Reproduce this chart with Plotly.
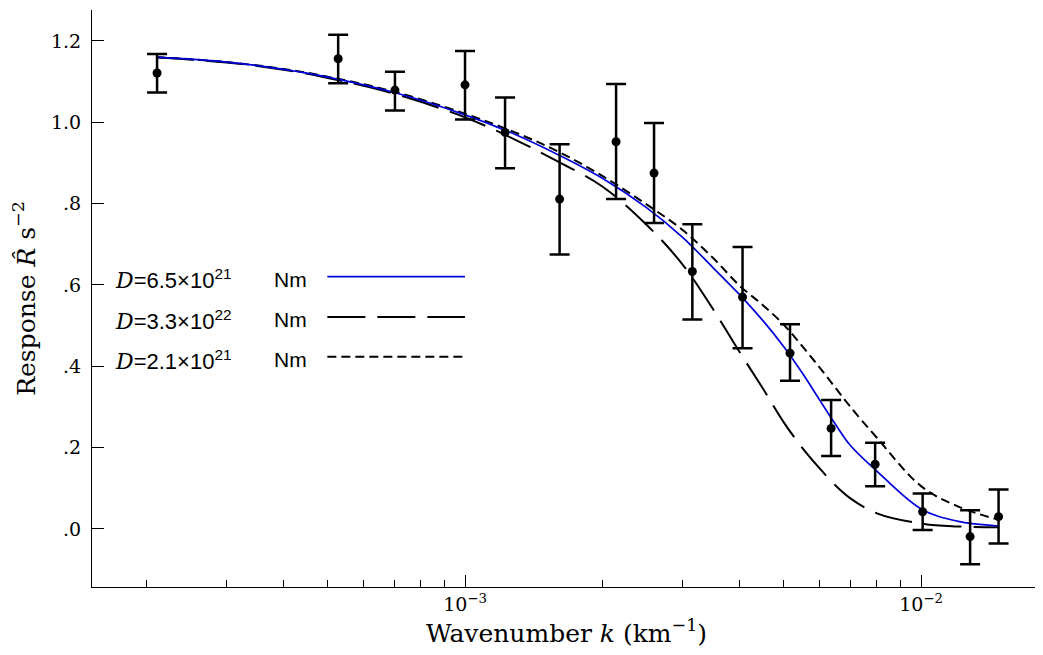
import plotly.graph_objects as go

# Observed response with error bars
k_obs = [2.112e-4, 5.27e-4, 7.02e-4, 1.0e-3, 1.224e-3, 1.612e-3, 2.144e-3, 2.597e-3,
         3.151e-3, 4.06e-3, 5.16e-3, 6.35e-3, 7.93e-3, 1.008e-2, 1.281e-2, 1.479e-2]
r_obs = [1.121, 1.156, 1.079, 1.092, 0.975, 0.811, 0.952, 0.875,
         0.633, 0.570, 0.432, 0.247, 0.159, 0.042, -0.019, 0.030]
r_hi = [1.168, 1.215, 1.124, 1.175, 1.061, 0.946, 1.094, 0.998,
        0.749, 0.693, 0.503, 0.317, 0.212, 0.087, 0.046, 0.097]
r_lo = [1.073, 1.096, 1.029, 1.007, 0.887, 0.675, 0.811, 0.752,
        0.515, 0.444, 0.364, 0.179, 0.105, -0.003, -0.087, -0.036]

# Model curves
k_model = [2.1e-4, 3e-4, 4e-4, 5e-4, 7e-4, 1e-3, 1.3e-3, 1.6e-3, 2e-3, 2.5e-3,
           3e-3, 3.5e-3, 4e-3, 4.5e-3, 5e-3, 5.5e-3, 6e-3, 6.5e-3, 7e-3, 8e-3,
           1e-2, 1.2e-2, 1.48e-2]
r_d65e21 = [1.160, 1.148, 1.130, 1.111, 1.073, 1.018, 0.968, 0.920, 0.862, 0.790,
            0.717, 0.642, 0.576, 0.512, 0.448, 0.382, 0.316, 0.256, 0.205, 0.142,
            0.049, 0.019, 0.007]
r_d33e22 = [1.160, 1.147, 1.129, 1.109, 1.070, 1.012, 0.955, 0.903, 0.842, 0.748,
            0.650, 0.540, 0.435, 0.345, 0.262, 0.198, 0.148, 0.106, 0.075, 0.038,
            0.013, 0.006, 0.004]
r_d21e21 = [1.160, 1.148, 1.131, 1.112, 1.075, 1.021, 0.973, 0.928, 0.868, 0.798,
            0.735, 0.666, 0.598, 0.550, 0.502, 0.448, 0.396, 0.346, 0.300, 0.224,
            0.105, 0.056, 0.022]

legend_labels = ["D=6.5×10<sup>21</sup>", "D=3.3×10<sup>22</sup>", "D=2.1×10<sup>21</sup>"]
legend_unit = "Nm"
y_ticks = [0.0, 0.2, 0.4, 0.6, 0.8, 1.0, 1.2]
y_ticktext = [".0", ".2", ".4", ".6", ".8", "1.0", "1.2"]
x_ticks = [1e-3, 1e-2]
x_ticktext = ["10<sup>−3</sup>", "10<sup>−2</sup>"]
x_minor = [m * 1e-4 for m in range(2, 10)] + [m * 1e-3 for m in range(2, 10)]

SERIF = "DejaVu Serif"
SANS = "Liberation Sans"
BLUE = "#0000dd"

fig = go.Figure()

# dashed curves first, blue solid curve on top
curve_styles = [
    (r_d33e22, dict(color="black", width=2, dash="38px,12px")),
    (r_d21e21, dict(color="black", width=2, dash="9px,5px")),
    (r_d65e21, dict(color=BLUE, width=1.7, dash="solid")),
]
for ys, ln in curve_styles:
    fig.add_trace(go.Scatter(x=k_model, y=ys, mode="lines", line=dict(shape="spline", **ln),
                             showlegend=False, hoverinfo="skip"))

err_plus = [h - r for h, r in zip(r_hi, r_obs)]
err_minus = [r - l for r, l in zip(r_obs, r_lo)]
fig.add_trace(go.Scatter(
    x=k_obs, y=r_obs, mode="markers",
    marker=dict(color="black", size=9),
    error_y=dict(type="data", array=err_plus, arrayminus=err_minus,
                 color="black", thickness=2.5, width=10),
    showlegend=False))

# Legend drawn inside plot: text then line sample on the right
rows_y = [0.533, 0.463, 0.394]
line_dash = ["solid", "38px,12px", "9px,5px"]
line_col = [BLUE, "black", "black"]
line_w = [1.7, 2, 2]
for lab, yy, dsh, col, w in zip(legend_labels, rows_y, line_dash, line_col, line_w):
    txt = lab.replace("D=", "<span style='font-family:%s'><i>D</i></span>=" % SERIF)
    fig.add_annotation(x=0.022, y=yy, xref="paper", yref="paper", text=txt,
                       showarrow=False, xanchor="left", yanchor="middle",
                       font=dict(family=SANS, size=22, color="black"))
    fig.add_annotation(x=0.19, y=yy, xref="paper", yref="paper", text=legend_unit,
                       showarrow=False, xanchor="left", yanchor="middle",
                       font=dict(family=SANS, size=21, color="black"))
    fig.add_shape(type="line", xref="paper", yref="paper", x0=0.248, x1=0.393,
                  y0=yy + 0.005, y1=yy + 0.005, line=dict(color=col, width=w, dash=dsh))

# the page adds an 8px body margin, so margins are shifted by 8px
fig.update_layout(
    width=1043, height=655,
    margin=dict(l=84, r=10, t=2, b=76),
    paper_bgcolor="white", plot_bgcolor="white",
    font=dict(family=SERIF, size=19, color="black"),
    xaxis=dict(type="log", range=[-3.818, -1.737], showgrid=False, zeroline=False,
               automargin=False,
               showline=True, linecolor="black", linewidth=1,
               ticks="inside", ticklen=12, tickwidth=1, tickcolor="black",
               tickvals=x_ticks, ticktext=x_ticktext,
               minor=dict(ticks="inside", ticklen=7, tickwidth=1, tickcolor="black",
                          tickmode="array", tickvals=x_minor),
               title=dict(text="Wavenumber <i>k</i> (km<sup>−1</sup>)",
                          font=dict(family=SERIF, size=25), standoff=10)),
    yaxis=dict(range=[-0.143, 1.276], showgrid=False, zeroline=False,
               automargin=False,
               showline=True, linecolor="black", linewidth=1,
               ticks="inside", ticklen=12, tickwidth=1, tickcolor="black",
               tickvals=y_ticks, ticktext=y_ticktext, ticklabelstandoff=6,
               title=dict(text="Response <i>R̂</i> s<sup>−2</sup>",
                          font=dict(family=SERIF, size=25), standoff=12)),
)

fig.write_html("out.html")
